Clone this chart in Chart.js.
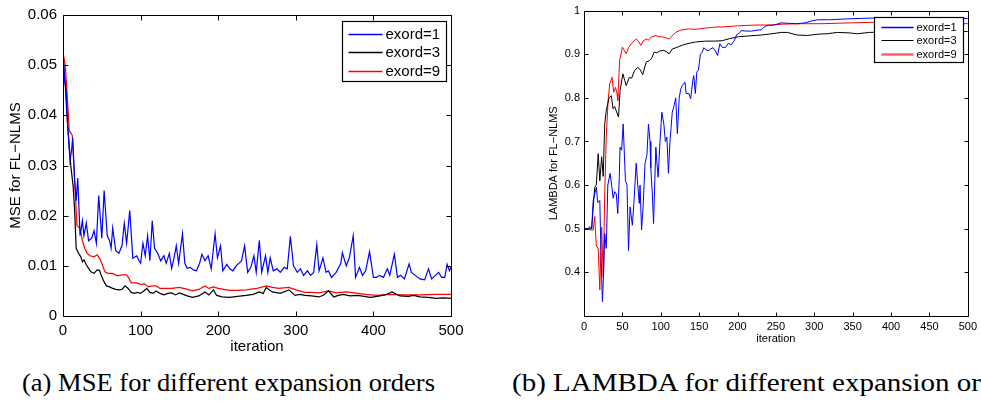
<!DOCTYPE html>
<html><head><meta charset="utf-8">
<script src="https://cdn.jsdelivr.net/npm/chart.js@4/dist/chart.umd.min.js"></script>
<style>
body{margin:0;background:#fff;width:981px;height:407px;overflow:hidden;position:relative;font-family:"Liberation Sans",Arial,sans-serif}
#c1{position:absolute;left:0;top:0}
#c2{position:absolute;left:520px;top:0}
.cap{position:absolute;top:368px;font-family:"Liberation Serif",serif;font-size:25px;line-height:30px;white-space:nowrap;color:#000;display:inline-block;transform-origin:0 50%}
</style></head><body>
<canvas id="c1" width="470" height="360"></canvas>
<canvas id="c2" width="461" height="360"></canvas>
<div class="cap" id="capA" style="left:22px">(a) MSE for different expansion orders</div>
<div class="cap" id="capB" style="left:512px">(b) LAMBDA for different expansion or</div>
<script>
// ---------- data ----------
const seriesLabels = ['exord=1','exord=3','exord=9'];
const seriesColors = ['#0000ff','#000000','#ff0000'];

// (a) MSE
const mseIter1 = [0,2,4,6,9,11,12.5,15,17,19,22,25,27,30,33,37,40,43,46,50,53,57,60,62,64,68,72,76,79,82,86,90,95,98,100,103,106,109,112,115,118,122,126,130,133,137,140,143,146,149,154,157,160,164,168,172,176,179,183,187,191,196,199,203,206,211,215,219,223,230,234,238,242,246,249,253,256,261,264,267,271,276,280,285,289,293,297,302,306,310,315,319,323,327,330,335,339,342,346,352,358,360,365,369,374,377,382,386,390,395,400,404,408,413,418,421,427,431,435,440,446,449,454,460,466,471,475,480,484,488,492,495,498,500];
const mseExord1 = [0.052,0.047,0.045,0.038,0.031,0.033,0.0355,0.027,0.023,0.0275,0.016,0.019,0.016,0.0185,0.015,0.0155,0.017,0.0145,0.024,0.0155,0.025,0.016,0.015,0.0135,0.0175,0.013,0.0125,0.014,0.0185,0.0145,0.021,0.0115,0.012,0.011,0.0105,0.0145,0.012,0.016,0.011,0.019,0.0135,0.0125,0.011,0.012,0.0105,0.0125,0.0095,0.0115,0.014,0.0105,0.0164,0.0105,0.0095,0.0097,0.0092,0.009,0.0105,0.0123,0.011,0.012,0.0094,0.0164,0.0116,0.014,0.009,0.0103,0.0094,0.009,0.01,0.011,0.014,0.0087,0.0097,0.012,0.0087,0.0151,0.0087,0.012,0.0087,0.0116,0.009,0.0094,0.0087,0.0097,0.0094,0.0159,0.01,0.0087,0.0094,0.0081,0.009,0.0081,0.0087,0.0142,0.009,0.0116,0.0087,0.009,0.0077,0.0087,0.0105,0.0126,0.01,0.0116,0.016,0.0077,0.0097,0.0081,0.009,0.0128,0.0077,0.0077,0.0081,0.0077,0.0094,0.0081,0.0123,0.0077,0.0081,0.0074,0.0104,0.0087,0.0081,0.0074,0.0072,0.0094,0.0074,0.0081,0.0087,0.0077,0.0077,0.0103,0.009,0.0098];

const mseIter3 = [0,3,5,8,10,13,15,17,20,23,25,27,30,33,36,40,44,47,50,53,56,60,64,68,72,76,80,84,88,92,96,100,104,108,112,116,120,125,130,135,140,145,150,155,160,167,175,183,188,194,198,205,215,225,236,245,253,258,262,266,270,280,291,299,305,312,320,330,336,342,349,355,361,370,380,388,396,405,415,424,434,445,452,460,470,481,490,500];
const mseExord3 = [0.052,0.046,0.04,0.034,0.03,0.026,0.021,0.0135,0.0125,0.0118,0.0108,0.0112,0.0102,0.0095,0.0088,0.0085,0.0092,0.0091,0.0078,0.0068,0.006,0.0058,0.0055,0.0053,0.0052,0.0053,0.006,0.0055,0.0047,0.0045,0.0047,0.0045,0.005,0.0055,0.0047,0.0045,0.005,0.0045,0.0042,0.0045,0.0046,0.0042,0.0046,0.0043,0.004,0.0037,0.004,0.0048,0.0042,0.0052,0.0041,0.0038,0.0037,0.0039,0.0041,0.0043,0.0048,0.0045,0.0057,0.0052,0.0048,0.0045,0.0052,0.0041,0.0043,0.0041,0.004,0.0038,0.0042,0.005,0.0038,0.0041,0.0043,0.004,0.0041,0.0039,0.0037,0.0039,0.0042,0.0048,0.004,0.0039,0.0041,0.0038,0.0037,0.0035,0.0036,0.0035];

const mseIter9 = [0,3,5,8,10,12,14,16,18,22,25,28,31,35,40,44,47,50,54,58,64,70,76,82,85,88,95,100,105,110,115,120,125,133,140,150,158,167,175,183,188,194,200,215,225,236,250,262,270,278,291,300,312,320,330,342,352,365,375,390,404,420,435,447,460,480,500];
const mseExord9 = [0.0525,0.05,0.045,0.037,0.0365,0.036,0.03,0.024,0.018,0.0175,0.015,0.0135,0.0125,0.012,0.0118,0.0122,0.0115,0.0105,0.0088,0.0085,0.0085,0.008,0.0082,0.0082,0.0075,0.0066,0.0066,0.0063,0.0064,0.0058,0.006,0.006,0.0055,0.0055,0.0055,0.0057,0.0054,0.005,0.0053,0.006,0.0055,0.0058,0.0055,0.0051,0.0051,0.0052,0.0055,0.006,0.0057,0.0055,0.0057,0.0052,0.0047,0.0047,0.0046,0.005,0.0046,0.0048,0.0046,0.0043,0.0041,0.0043,0.0042,0.0042,0.0042,0.0043,0.0043];

const mseXTicks = [0,100,200,300,400,500];
const mseYTicks = [0,0.01,0.02,0.03,0.04,0.05,0.06];
const mseYTickLabels = ['0','0.01','0.02','0.03','0.04','0.05','0.06'];

// (b) LAMBDA
const lamIter1 = [0,5,8,10,12,14,16,18,20.6,22,24,26,27,29,31,34,36,38,40,42,44,46,47,49,51,52,54,56,58,60,63,65,68,70,72,73,75,77,79.5,82,84,86,87,89,90.6,93.6,95,96.6,99,101.4,104,106,108,110,112,115,117,119.5,121.6,124,126,128,131.5,133,136.6,139,141.7,143,145,147,149,151.6,154,156,159,162,165,168,171,174,177,180,184,188,192,196,199,202,205,212,218,225,231,236,240,248,257,265,278,288,296,304,320,343,360,377,400,430,460,500];
const lamExord1 = [0.5,0.5,0.505,0.5,0.565,0.58,0.595,0.56,0.565,0.45,0.333,0.42,0.489,0.455,0.6,0.627,0.6,0.57,0.585,0.58,0.535,0.62,0.687,0.68,0.74,0.74,0.61,0.6,0.45,0.55,0.508,0.56,0.65,0.6,0.558,0.6,0.497,0.55,0.65,0.67,0.74,0.7,0.64,0.58,0.512,0.687,0.65,0.618,0.7,0.767,0.74,0.7,0.71,0.627,0.7,0.767,0.78,0.8,0.718,0.8,0.82,0.828,0.836,0.81,0.81,0.798,0.84,0.851,0.81,0.86,0.863,0.9,0.905,0.915,0.91,0.908,0.912,0.915,0.908,0.897,0.924,0.916,0.915,0.925,0.922,0.932,0.945,0.948,0.954,0.953,0.953,0.955,0.956,0.964,0.966,0.967,0.972,0.971,0.97,0.972,0.976,0.979,0.979,0.981,0.982,0.983,0.983,0.983,0.982,0.982];

const lamIter3 = [0,10,12,14,16,18.5,20.6,23,25,27,29,32.6,35.6,37.8,40,42,45,47,50.7,53,55,59,62,66,70,73,76.5,81,85,88,91.5,95,98,104,108,111,115,120,124,130,137,145,158,170,180,190,201,215,231,245,257,265,278,291,305,317,330,345,356,372,400,430,460,500];
const lamExord3 = [0.5,0.5,0.55,0.595,0.6,0.672,0.61,0.665,0.62,0.74,0.771,0.8,0.805,0.775,0.78,0.77,0.756,0.817,0.855,0.84,0.828,0.847,0.845,0.863,0.87,0.865,0.853,0.882,0.885,0.89,0.905,0.903,0.907,0.909,0.905,0.901,0.912,0.915,0.918,0.922,0.925,0.928,0.93,0.93,0.931,0.936,0.94,0.942,0.944,0.947,0.95,0.95,0.944,0.943,0.946,0.947,0.95,0.949,0.947,0.95,0.951,0.952,0.952,0.952];

const lamIter9 = [0,10,12,14,16,18.5,20.6,22,23,25,27,29,31.4,33.5,36.5,38.7,41,43,44,46.4,50,52,55,58,61.4,65,68,71,74,77,81,84,87,93.6,98,102,106,111,115,119.5,124,128,136.6,145,158,170,184,200,210,227,244,260,287,310,330,350,373,400,430,460,500];
const lamExord9 = [0.5,0.497,0.497,0.528,0.46,0.455,0.36,0.45,0.504,0.39,0.58,0.71,0.794,0.832,0.847,0.813,0.824,0.81,0.794,0.886,0.916,0.91,0.901,0.915,0.924,0.93,0.935,0.93,0.92,0.93,0.935,0.932,0.939,0.943,0.94,0.94,0.938,0.935,0.942,0.95,0.954,0.956,0.958,0.957,0.96,0.962,0.963,0.965,0.966,0.967,0.967,0.969,0.97,0.97,0.971,0.972,0.973,0.973,0.972,0.971,0.97];

const lamXTicks = [0,50,100,150,200,250,300,350,400,450,500];
const lamYTicks = [0.4,0.5,0.6,0.7,0.8,0.9,1];
const lamYTickLabels = ['0.4','0.5','0.6','0.7','0.8','0.9','1'];

// ---------- helpers ----------
const zip = (xs, ys) => xs.map((x, i) => ({x, y: ys[i]}));
const FONT = '"Liberation Sans", Arial, Helvetica, sans-serif';

const boxPlugin = {
  id: 'matlabBox',
  afterDatasetsDraw(chart, args, o) {
    const {ctx, chartArea: a, scales: {x, y}} = chart;
    ctx.save();
    ctx.strokeStyle = '#000';
    ctx.lineWidth = 1;
    const L = Math.round(a.left) + 0.5, R = Math.round(a.right) + 0.5;
    const T = Math.round(a.top) + 0.5, B = Math.round(a.bottom) + 0.5;
    ctx.beginPath();
    ctx.rect(L, T, R - L, B - T);
    const t = o.tick;
    x.ticks.forEach(tk => {
      const px = Math.round(x.getPixelForValue(tk.value)) + 0.5;
      ctx.moveTo(px, B); ctx.lineTo(px, B - t);
      ctx.moveTo(px, T); ctx.lineTo(px, T + t);
    });
    y.ticks.forEach(tk => {
      const py = Math.round(y.getPixelForValue(tk.value)) + 0.5;
      ctx.moveTo(L, py); ctx.lineTo(L + t, py);
      ctx.moveTo(R, py); ctx.lineTo(R - t, py);
    });
    ctx.stroke();
    // legend box
    const lg = o.legend;
    const bx = Math.round(a.right - lg.right - lg.w) + 0.5;
    const by = Math.round(a.top + lg.top) + 0.5;
    ctx.fillStyle = '#fff';
    ctx.fillRect(bx, by, lg.w, lg.h);
    ctx.lineWidth = lg.borderWidth;
    ctx.strokeStyle = '#000';
    ctx.strokeRect(bx, by, lg.w, lg.h);
    ctx.font = lg.fontSize + 'px ' + FONT;
    ctx.textBaseline = 'middle';
    ctx.textAlign = 'left';
    seriesLabels.forEach((label, i) => {
      const ry = Math.round(by + lg.row0 + i * lg.rowGap) + 0.5;
      ctx.beginPath();
      ctx.strokeStyle = lg.lineColors[i];
      ctx.lineWidth = lg.lineWidths[i];
      ctx.moveTo(bx + lg.lineX0, ry);
      ctx.lineTo(bx + lg.lineX1, ry);
      ctx.stroke();
      ctx.fillStyle = '#000';
      ctx.fillText(label, bx + lg.textX, ry + 0.5);
    });
    ctx.restore();
  }
};

function makeChart(id, cfg) {
  const mk = (xs, ys, i) => ({
    label: seriesLabels[i], data: zip(xs, ys), borderColor: seriesColors[i],
    backgroundColor: seriesColors[i], borderWidth: cfg.lw, pointRadius: 0, tension: 0, fill: false
  });
  return new Chart(document.getElementById(id), {
    type: 'line',
    data: {datasets: cfg.series.map((s, i) => mk(s[0], s[1], i))},
    options: {
      responsive: false, animation: false, devicePixelRatio: 1,
      layout: {padding: cfg.padding},
      plugins: {legend: {display: false}, tooltip: {enabled: false}, matlabBox: {tick: cfg.tick, legend: cfg.legend}},
      scales: {
        x: {
          type: 'linear', min: 0, max: 500,
          afterBuildTicks: s => { s.ticks = cfg.xTicks.map(v => ({value: v})); },
          ticks: {font: {family: FONT, size: cfg.fs}, color: '#000', padding: cfg.xPad, maxRotation: 0, autoSkip: false,
                  callback: v => String(v)},
          grid: {display: false, drawTicks: false}, border: {display: false},
          title: {display: true, text: 'iteration', color: '#000', font: {family: FONT, size: cfg.titleFs}, padding: {top: 0, bottom: cfg.xTitlePad}},
          afterFit: s => { s.height = cfg.xH; }
        },
        y: {
          type: 'linear', min: cfg.yMin, max: cfg.yMax,
          afterBuildTicks: s => { s.ticks = cfg.yTicks.map(v => ({value: v})); },
          ticks: {font: {family: FONT, size: cfg.fs}, color: '#000', padding: cfg.yPad, autoSkip: false,
                  callback: v => { const k = cfg.yTicks.findIndex(t => Math.abs(t - v) < 1e-9); return k >= 0 ? cfg.yLabels[k] : ''; }},
          grid: {display: false, drawTicks: false}, border: {display: false},
          title: {display: true, text: cfg.yTitle, color: '#000', font: {family: FONT, size: cfg.yTitleFs}, padding: {top: cfg.yTitlePad, bottom: 0}},
          afterFit: s => { s.width = cfg.yW; }
        }
      }
    },
    plugins: [boxPlugin]
  });
}

makeChart('c1', {
  series: [[mseIter1, mseExord1], [mseIter3, mseExord3], [mseIter9, mseExord9]],
  lw: 1.2, padding: {top: 10, right: 19, left: 0, bottom: 0},
  xTicks: mseXTicks, yTicks: mseYTicks, yLabels: mseYTickLabels, yMin: 0, yMax: 0.06,
  fs: 15, titleFs: 15, yTitleFs: 15, xPad: 6, yPad: 6, xTitlePad: 4, yTitlePad: 7,
  xH: 44, yW: 63, yTitle: 'MSE for FL\u2212NLMS', tick: 5,
  legend: {right: 5, top: 6, w: 104, h: 60, row0: 12, rowGap: 18.5, lineX0: 6, lineX1: 40, textX: 43, fontSize: 15, borderWidth: 1.2,
           lineColors: seriesColors, lineWidths: [1.6, 1.6, 1.6]}
});

makeChart('c2', {
  series: [[lamIter1, lamExord1], [lamIter3, lamExord3], [lamIter9, lamExord9]],
  lw: 1, padding: {top: 10, right: 9, left: 0, bottom: 0},
  xTicks: lamXTicks, yTicks: lamYTicks, yLabels: lamYTickLabels, yMin: 0.3, yMax: 1,
  fs: 11, titleFs: 11, yTitleFs: 11, xPad: 4, yPad: 4, xTitlePad: 14, yTitlePad: 27,
  xH: 44, yW: 64, yTitle: 'LAMBDA for FL\u2212NLMS', tick: 4,
  legend: {right: 5, top: 6, w: 89, h: 45, row0: 9, rowGap: 13.5, lineX0: 7, lineX1: 39, textX: 42, fontSize: 11, borderWidth: 1.2,
           lineColors: ['#0000ff', '#000000', '#ff6060'], lineWidths: [1.6, 1.2, 2.6]}
});

// fit the captions to the widths they occupy in the figure
function fitCaption(id, targetRight) {
  const el = document.getElementById(id);
  const left = el.offsetLeft, w = el.getBoundingClientRect().width;
  el.style.transform = 'scaleX(' + ((targetRight - left) / w).toFixed(4) + ')';
}
fitCaption('capA', 435);
fitCaption('capB', 981);
</script>
</body></html>
